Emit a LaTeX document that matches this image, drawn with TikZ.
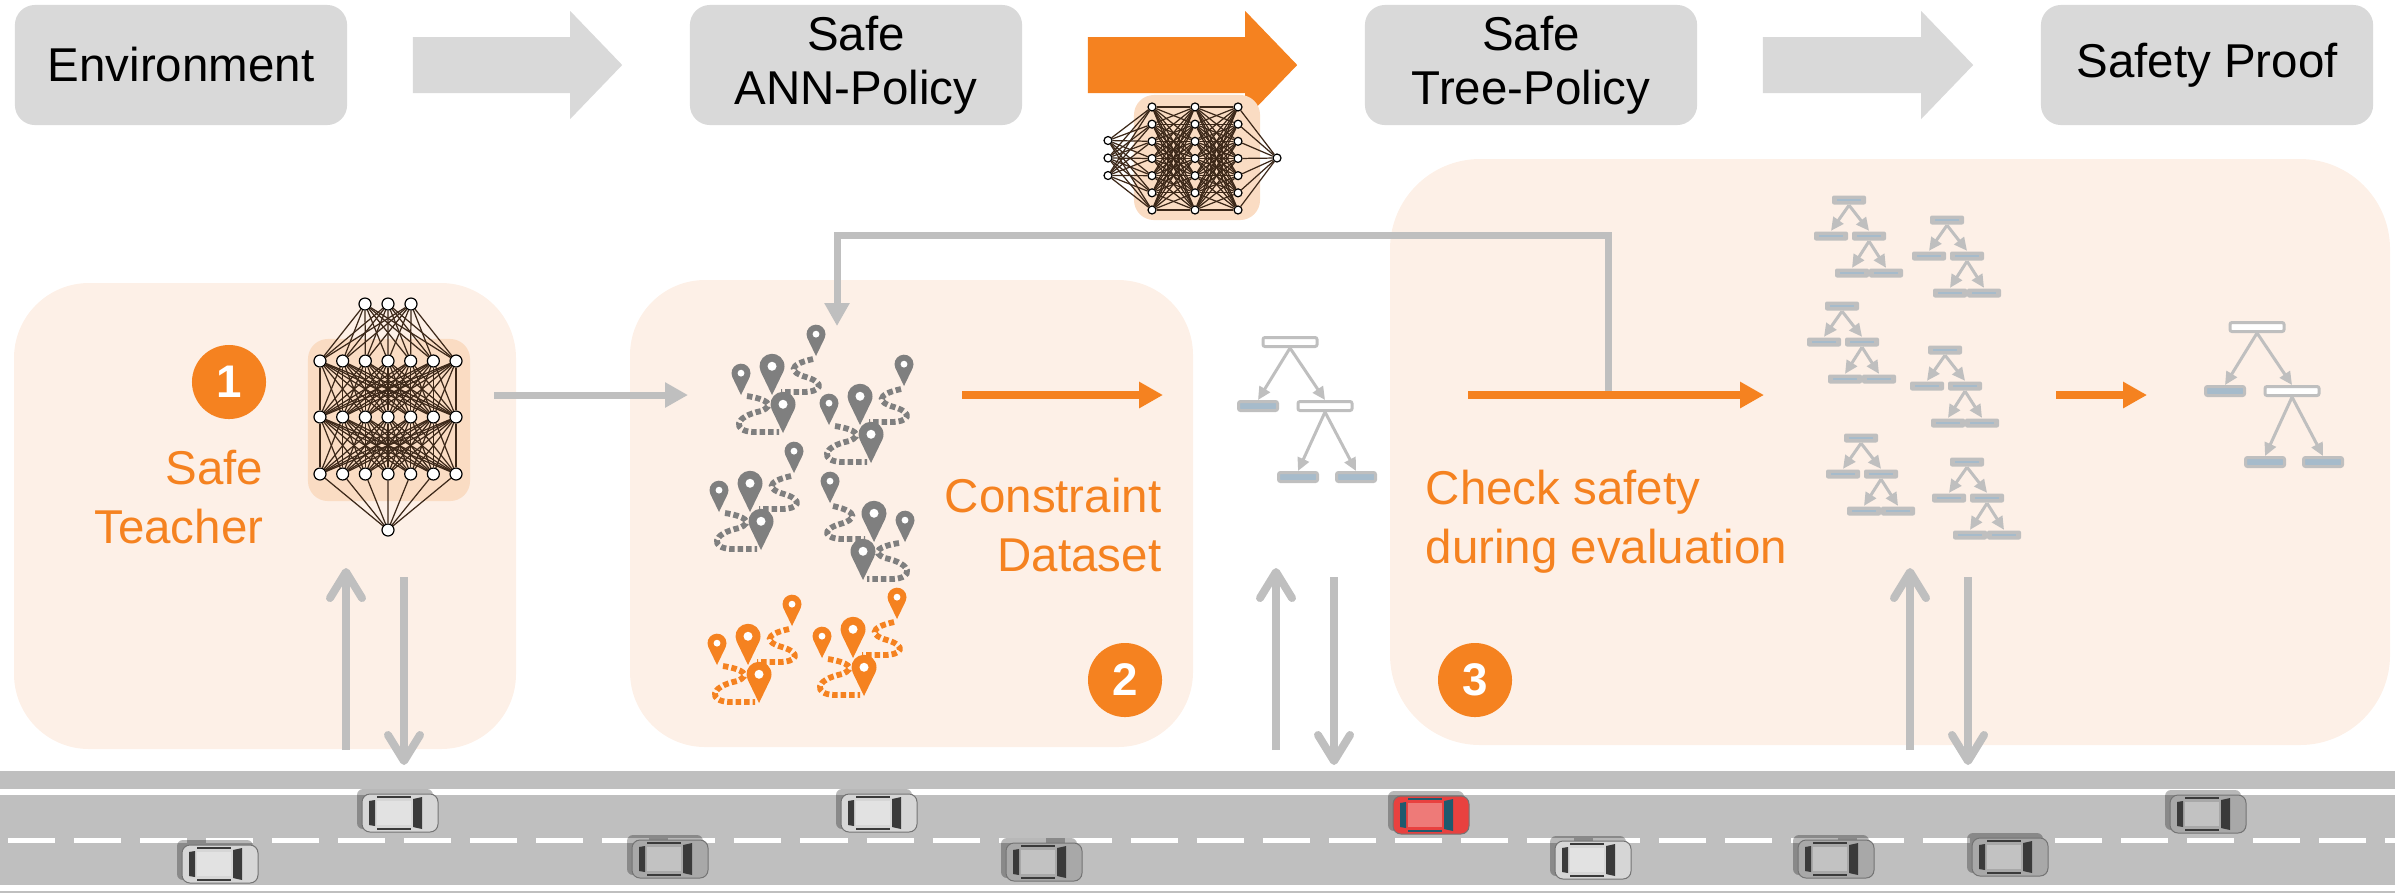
\documentclass[tikz,border=0pt]{standalone}
\usepackage{fontspec}
\setmainfont{Liberation Sans}
\usetikzlibrary{calc}
\usetikzlibrary{arrows.meta}

\definecolor{orange}{RGB}{245,130,32}
\definecolor{boxgray}{RGB}{217,217,217}
\definecolor{linegray}{RGB}{191,191,191}
\definecolor{panelbg}{RGB}{253,240,231}
\definecolor{netbg}{RGB}{250,220,195}
\definecolor{wire}{RGB}{60,40,25}
\definecolor{pingray}{RGB}{127,127,127}
\definecolor{leafblue}{RGB}{166,187,203}
\definecolor{carbody}{RGB}{214,214,214}
\definecolor{cardark}{RGB}{168,168,168}
\definecolor{carglass}{RGB}{58,58,58}
\definecolor{carred}{RGB}{232,65,63}
\definecolor{carteal}{RGB}{30,90,110}

\tikzset{
  topbox/.style={fill=boxgray, rounded corners=0.2cm, minimum width=3.32cm, minimum height=1.2cm,
    align=center, inner sep=0, font=\fontsize{13.5}{15.4}\selectfont},
  stagepanel/.style={fill=panelbg, rounded corners=0.75cm},
  steplabel/.style={text=orange, inner sep=0, font=\fontsize{13.5}{16.8}\selectfont},
  stepnum/.style={circle, fill=orange, text=white, minimum size=0.74cm, inner sep=0,
    font=\fontsize{13}{13}\selectfont\bfseries},
  netbox/.style={fill=netbg, rounded corners=0.2cm, inner sep=0},
  neuron/.style={circle, draw=black, line width=0.012cm, fill=white, inner sep=0, minimum size=0.12cm},
  smallneuron/.style={neuron, minimum size=0.08cm},
  synapse/.style={draw=wire, line width=0.35pt},
  feedarrow/.style={draw=linegray, line width=0.07cm, -{Triangle[length=0.23cm,width=0.24cm]}},
  flowarrow/.style={draw=orange, line width=0.08cm, -{Triangle[length=0.24cm,width=0.25cm]}},
  envarrow/.style={draw=linegray, line width=0.08cm, -{Straight Barb[length=0.26cm,width=0.32cm,round]}},
  splitnode/.style={draw=linegray, line width=0.03cm, fill=white, rounded corners=0.02cm,
    minimum width=0.54cm, minimum height=0.09cm, inner sep=0},
  leafnode/.style={splitnode, fill=leafblue, minimum width=0.39cm},
  ensnode/.style={fill=linegray, rounded corners=0.02cm, minimum width=0.34cm, minimum height=0.09cm, inner sep=0,
    path picture={\draw[leafblue, line width=0.012cm] ([xshift=0.05cm]path picture bounding box.west)
      -- ([xshift=-0.05cm]path picture bounding box.east);}},
  treearrow/.style={draw=linegray, line width=0.03cm, -{Triangle[length=0.13cm,width=0.12cm]}},
  trail/.style={line width=0.058cm, dash pattern=on 0.055cm off 0.03cm},
  % map pins joined by dashed trails
  pics/route/.style={code={
    \draw[#1, trail] (72,-36) .. controls (45,-30) and (50,-22) .. (65,-18)
      .. controls (85,-12) and (80,-3) .. (62,-3) -- (40,-3);
    \draw[#1, trail] (6,1) .. controls (25,4) and (35,10) .. (20,16)
      .. controls (-8,22) and (-8,36) .. (12,37) -- (38,37);
    \mappin{0}{0}{9.5}{#1}
    \mappin{31}{0}{12.5}{#1}
    \mappin{75}{-39}{9.5}{#1}
    \mappin{42}{38}{12.5}{#1}
  }},
  % car seen from above, front to the right
  pics/car/.style 2 args={code={
    \fill[black, opacity=0.28, rounded corners=0.06cm] (-43,-24) rectangle (33,16);
    \filldraw[fill=#1, draw=black!55, line width=0.01cm, rounded corners=0.08cm] (-38,-19) rectangle (38,19);
    \fill[white, opacity=0.3] (-23,-12) rectangle (11,12);
    \fill[#2] (13,-14) -- (22,-16) -- (22,16) -- (13,14) -- cycle;
    \fill[#2] (-31,-12) -- (-25,-13) -- (-25,13) -- (-31,12) -- cycle;
    \fill[#2] (-23,-17) rectangle (11,-15);
    \fill[#2] (-23,15) rectangle (11,17);
  }},
}

\newcommand{\mappin}[4]{% tip x, tip y, head radius, colour
  \fill[#4] (#1,#2) -- ++(-0.906*#3,-1.877*#3) arc[start angle=155,end angle=385,radius=#3] -- cycle;
  \fill[white] (#1,#2-2.3*#3) circle[radius=0.36*#3];
}

\newcommand{\blockarrow}[3]{% from, to, colour
  \fill[#3] ($(#1.east)+(65,-28)$) -- ($(#2.west)+(-119,-28)$) -- ($(#2.west)+(-119,-54)$)
    -- ($(#2.west)+(-67,0)$) -- ($(#2.west)+(-119,54)$) -- ($(#2.west)+(-119,28)$)
    -- ($(#1.east)+(65,28)$) -- cycle;
}

\newcommand{\dtree}[3]{% name, root x, root y
  \node[splitnode] (#1r) at (#2,#3) {};
  \node[leafnode] (#1a) at (#2-32,#3+64) {};
  \node[splitnode] (#1b) at (#2+35,#3+64) {};
  \node[leafnode] (#1c) at (#2+8,#3+135) {};
  \node[leafnode] (#1d) at (#2+66,#3+135) {};
  \draw[treearrow] (#1r.south) -- (#1a.north);
  \draw[treearrow] (#1r.south) -- (#1b.north);
  \draw[treearrow] (#1b.south) -- (#1c.north);
  \draw[treearrow] (#1b.south) -- (#1d.north);
}

\newcommand{\minitree}[3]{% name, root x, root y
  \node[ensnode] (#1r) at (#2,#3) {};
  \node[ensnode] (#1a) at (#2-18,#3+36) {};
  \node[ensnode] (#1b) at (#2+20,#3+36) {};
  \node[ensnode] (#1c) at (#2+3,#3+73) {};
  \node[ensnode] (#1d) at (#2+37,#3+73) {};
  \draw[treearrow] (#1r.south) -- (#1a.north);
  \draw[treearrow] (#1r.south) -- (#1b.north);
  \draw[treearrow] (#1b.south) -- (#1c.north);
  \draw[treearrow] (#1b.south) -- (#1d.north);
}

\begin{document}
\begin{tikzpicture}[x=0.01cm, y=-0.01cm]
    \useasboundingbox (0,0) rectangle (2395,893);

    % pipeline along the top
    \node[topbox] (env) at (181,65) {Environment};
    \node[topbox] (annpol) at (856,65) {Safe\\ANN-Policy};
    \node[topbox] (treepol) at (1531,65) {Safe\\Tree-Policy};
    \node[topbox] (proof) at (2207,65) {Safety Proof};
    \blockarrow{env}{annpol}{boxgray}
    \blockarrow{annpol}{treepol}{orange}
    \blockarrow{treepol}{proof}{boxgray}

    % policy network under the orange arrow
    \node[netbox, minimum width=1.26cm, minimum height=1.25cm] (polnet) at (1197,157.5) {};
    \foreach \i in {1,2,3}
        \node[smallneuron] (pin\i) at (1108,123+17.5*\i) {};
    \foreach \l/\x in {1/1152,2/1195,3/1238}
        \foreach \i in {1,...,7}
            \node[smallneuron] (ph\l-\i) at (\x,89.8+17.17*\i) {};
    \node[smallneuron] (pout) at (1277,158) {};
    \foreach \i in {1,2,3}
        \foreach \j in {1,...,7}
            \draw[synapse] (pin\i) -- (ph1-\j);
    \foreach \i in {1,...,7}
        \foreach \j in {1,...,7} {
            \draw[synapse] (ph1-\i) -- (ph2-\j);
            \draw[synapse] (ph2-\i) -- (ph3-\j);
        }
    \foreach \i in {1,...,7}
        \draw[synapse] (ph3-\i) -- (pout);

    % stage panels
    \fill[stagepanel] (14,283) rectangle (516,749);
    \fill[stagepanel] (630,280) rectangle (1193,747);
    \fill[stagepanel, rounded corners=0.9cm] (1390,159) rectangle (2390,745);

    % road
    \fill[linegray] (0,771) rectangle (2395,789);
    \fill[linegray] (0,795) rectangle (2395,885);
    \fill[linegray] (0,891) rectangle (2395,893);
    \draw[white, line width=0.05cm, dash pattern=on 0.47cm off 0.19cm] (8,840) -- (2395,840);

    \pic at (400,813) {car={carbody}{carglass}};
    \pic at (879,813) {car={carbody}{carglass}};
    \pic at (220,864) {car={carbody}{carglass}};
    \pic at (670,859) {car={cardark}{carglass}};
    \pic at (1044,862) {car={cardark}{carglass}};
    \pic at (1431,815) {car={carred}{carteal}};
    \pic at (1593,860) {car={carbody}{carglass}};
    \pic at (1836,859) {car={cardark}{carglass}};
    \pic at (2010,857) {car={cardark}{carglass}};
    \pic at (2208,814) {car={cardark}{carglass}};

    % interaction with the road
    \foreach \u/\d [count=\k] in {346/404, 1276/1334, 1910/1968} {
        \coordinate (obs\k) at (\u,750);
        \coordinate (sense\k) at (\u,568);
        \coordinate (act\k) at (\d,577);
        \coordinate (drive\k) at (\d,765);
        \draw[envarrow] (obs\k) -- (sense\k);
        \draw[envarrow] (act\k) -- (drive\k);
    }

    % 1: safe teacher
    \node[stepnum] (num1) at (229,382) {1};
    \node[steplabel, anchor=north east, align=right] (teacher) at (264,449) {Safe\\Teacher};
    \node[netbox, minimum width=1.62cm, minimum height=1.62cm] (teachnet) at (389,420) {};
    \foreach \i in {1,2,3}
        \node[neuron] (tin\i) at (342+23*\i,304) {};
    \foreach \l/\y in {1/361,2/417,3/474}
        \foreach \i in {1,...,7}
            \node[neuron] (th\l-\i) at (297.33+22.67*\i,\y) {};
    \node[neuron] (tout) at (388,530) {};
    \foreach \i in {1,2,3}
        \foreach \j in {1,...,7}
            \draw[synapse] (tin\i) -- (th1-\j);
    \foreach \i in {1,...,7}
        \foreach \j in {1,...,7} {
            \draw[synapse] (th1-\i) -- (th2-\j);
            \draw[synapse] (th2-\i) -- (th3-\j);
        }
    \foreach \i in {1,...,7}
        \draw[synapse] (th3-\i) -- (tout);

    % 2: constraint dataset
    \pic at (741,395) {route=pingray};
    \pic at (829,425) {route=pingray};
    \pic at (719,512) {route=pingray};
    \pic[xscale=-1] at (905,542) {route=pingray};
    \pic at (717,665) {route=orange};
    \pic at (822,658) {route=orange};
    \node[steplabel, anchor=north east, align=right] (dataset) at (1162,477) {Constraint\\Dataset};
    \node[stepnum] (num2) at (1125,680) {2};

    \dtree{ta}{1290}{342}

    % 3: safety check during evaluation
    \node[steplabel, anchor=north west, align=left] (check) at (1425,469) {Check safety\\during evaluation};
    \node[stepnum] (num3) at (1475,680) {3};
    \minitree{ea}{1849}{200}
    \minitree{eb}{1947}{220}
    \minitree{ec}{1842}{306}
    \minitree{ed}{1945}{350}
    \minitree{ee}{1861}{438}
    \minitree{ef}{1967}{462}
    \dtree{tb}{2257}{327}

    % connectors between the stages
    \coordinate (teach-out) at (494,395);
    \coordinate (data-in) at (688,395);
    \coordinate (data-out) at (962,395);
    \coordinate (tree-in) at (1163,395);
    \coordinate (eval-in) at (1468,395);
    \coordinate (eval-out) at (1764,395);
    \coordinate (fb-split) at (1608,395);
    \coordinate (data-top) at (837,326);
    \coordinate (ens-out) at (2056,395);
    \coordinate (proof-in) at (2147,395);

    \draw[feedarrow] (teach-out) -- (data-in);
    \draw[feedarrow] (fb-split) -- ++(0,-160) -| (data-top);
    \draw[flowarrow] (data-out) -- (tree-in);
    \draw[flowarrow] (eval-in) -- (eval-out);
    \draw[flowarrow] (ens-out) -- (proof-in);
\end{tikzpicture}
\end{document}
